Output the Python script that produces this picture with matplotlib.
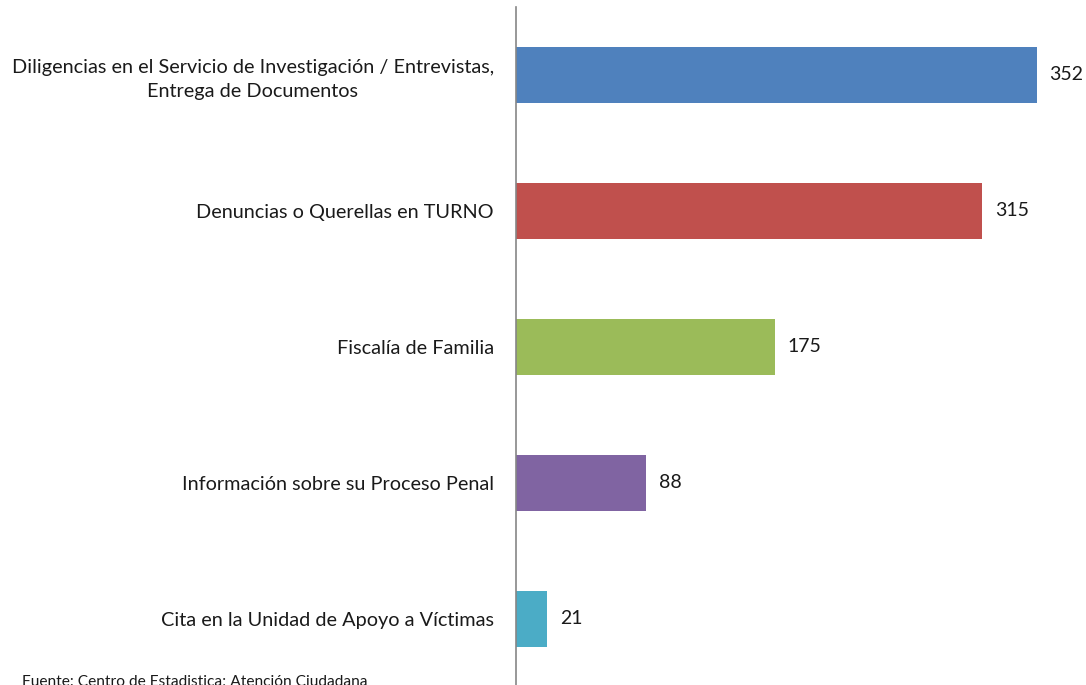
import matplotlib.pyplot as plt

plt.rcParams['font.family'] = ['Lato', 'DejaVu Sans']

categorias = [
    "Diligencias en el Servicio de Investigación / Entrevistas,\nEntrega de Documentos",
    "Denuncias o Querellas en TURNO",
    "Fiscalía de Familia",
    "Información sobre su Proceso Penal",
    "Cita en la Unidad de Apoyo a Víctimas",
]
valores = [352, 315, 175, 88, 21]
colores = ["#4F81BD", "#C0504D", "#9BBB59", "#8064A2", "#4BACC6"]

fig = plt.figure(figsize=(10.86, 6.85), dpi=100)
ax = fig.add_axes([516 / 1086, -2 / 685, 570 / 1086, 680 / 685])

y = list(range(len(valores)))
ax.barh(y, valores, height=0.41, color=colores)
ax.set_ylim(len(valores) - 0.5, -0.5)
ax.set_xlim(0, 570 / 1.48)

for yi, v in zip(y, valores):
    ax.text(v + 8.5, yi, str(v), va="center", ha="left", fontsize=14, color="#1a1a1a")

ax.set_yticks(y)
ax.set_yticklabels(categorias, fontsize=14.3, color="#1a1a1a", ha="right",
                   multialignment="center", linespacing=1.45)
ax.tick_params(axis="y", length=0, pad=16)
ax.set_xticks([])

for s in ["top", "right", "bottom"]:
    ax.spines[s].set_visible(False)
ax.spines["left"].set_color("#868686")
ax.spines["left"].set_linewidth(1.2)

fig.text(22 / 1086, 1 - 689 / 685, "Fuente: Centro de Estadistica; Atención Ciudadana",
         fontsize=11.2, color="#1a1a1a", ha="left", va="bottom")

fig.savefig("out.png", dpi=100)
